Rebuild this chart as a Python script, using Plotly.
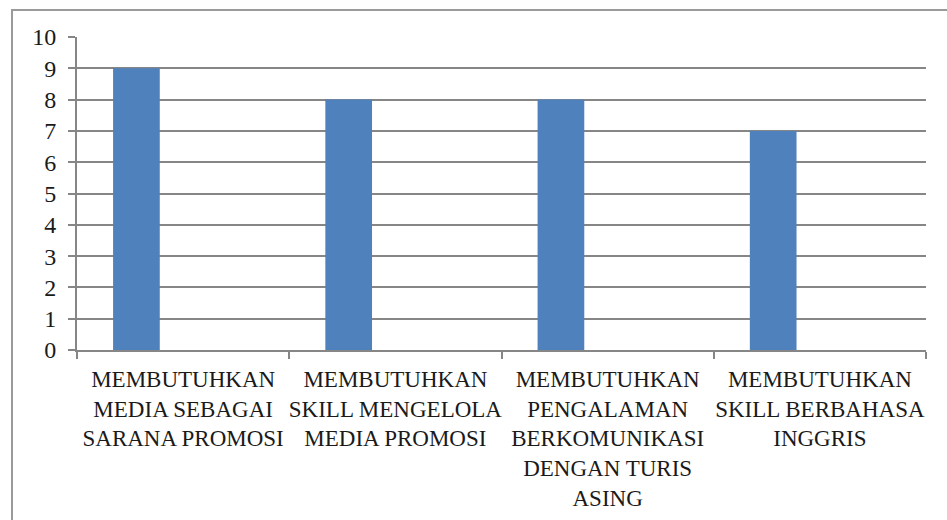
import plotly.graph_objects as go

categories = [
    "MEMBUTUHKAN<br>MEDIA SEBAGAI<br>SARANA PROMOSI",
    "MEMBUTUHKAN<br>SKILL MENGELOLA<br>MEDIA PROMOSI",
    "MEMBUTUHKAN<br>PENGALAMAN<br>BERKOMUNIKASI<br>DENGAN TURIS<br>ASING",
    "MEMBUTUHKAN<br>SKILL BERBAHASA<br>INGGRIS",
]
series1 = [9, 8, 8, 7]
series2 = [None, None, None, None]
series3 = [None, None, None, None]
y_ticks = list(range(0, 11))

GRID = "#868686"
FONT = "Liberation Serif"
TXT = "#1a1a1a"

fig = go.Figure()
for name, vals, col in [("Series 1", series1, "#4F81BD"),
                        ("Series 2", series2, "#C0504D"),
                        ("Series 3", series3, "#9BBB59")]:
    fig.add_trace(go.Bar(x=categories, y=vals, name=name,
                         marker=dict(color=col, line=dict(width=0))))

fig.update_layout(
    width=947, height=520,
    margin=dict(l=77, r=21, t=37, b=170, autoexpand=False),
    barmode="group", bargap=0.34, bargroupgap=0,
    showlegend=False,
    plot_bgcolor="white", paper_bgcolor="white",
    font=dict(family=FONT, size=22, color=TXT),
)
fig.update_xaxes(
    type="category", tickson="boundaries", ticks="outside", ticklen=7,
    tickcolor=GRID, tickwidth=2, showline=True, linecolor=GRID, linewidth=2,
    showgrid=False, ticklabelstandoff=7, tickangle=0, automargin=False,
    tickfont=dict(family=FONT, size=23, color=TXT),
)
fig.update_yaxes(
    range=[0, 10], tickvals=y_ticks, ticks="outside", ticklen=7,
    tickcolor=GRID, tickwidth=2, showline=True, linecolor=GRID, linewidth=2,
    showgrid=True, gridcolor=GRID, gridwidth=2, zeroline=False,
    ticklabelstandoff=7, automargin=False,
    tickfont=dict(family=FONT, size=24, color=TXT),
)
# outer chart frame
fig.add_shape(type="rect", xref="paper", yref="paper",
              x0=-65/849, x1=1.2, y0=-1.0, y1=1 + 27/313,
              line=dict(color="#9a9a9a", width=2), fillcolor="rgba(0,0,0,0)",
              layer="below")

fig.write_html("out.html")
